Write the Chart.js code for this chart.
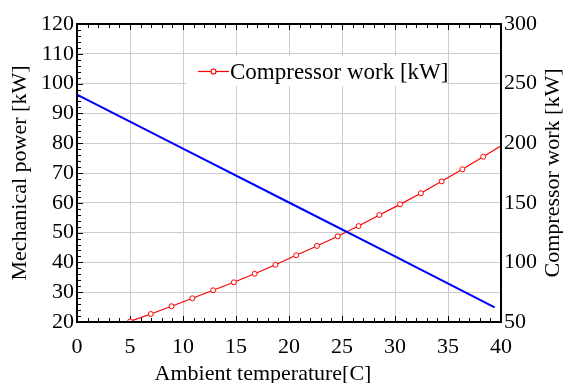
<!DOCTYPE html>
<html>
<head>
<meta charset="utf-8">
<script src="https://cdn.jsdelivr.net/npm/chart.js@4"></script>
<style>
  html, body { margin: 0; padding: 0; background: #fff; }
  #wrap { width: 563px; height: 383px; }
</style>
</head>
<body>
<div id="wrap"><canvas id="c" width="563" height="383"></canvas></div>
<script>
// ambient temperature [C] for the compressor curve (marker positions)
const compTemp = [5, 6.96, 8.92, 10.88, 12.84, 14.8, 16.76, 18.72, 20.68, 22.64,
                  24.6, 26.56, 28.52, 30.48, 32.44, 34.4, 36.36, 38.32, 40];
const compWork = [50.5, 56.7, 63.2, 69.9, 76.6, 83.3, 90.5, 98.0, 106.0, 113.8,
                  121.9, 130.5, 139.8, 148.7, 158.0, 168.0, 178.1, 188.7, 197.9];
// mechanical power line (left axis)
const mechTemp = [0, 10, 20, 30, 39.4];
const mechPower = [96.3, 78.2, 60.1, 42.0, 24.9];

const F = 'Liberation Serif';

// frame, inward minor ticks, custom legend and axis titles
const extras = {
  id: 'extras',
  beforeDatasetsDraw(chart) {
    const { ctx, chartArea: a, scales } = chart;
    ctx.save();
    ctx.strokeStyle = '#000';
    ctx.lineWidth = 1;
    for (let v = 1; v < 40; v++) {
      const x = Math.round(scales.x.getPixelForValue(v)) + 0.5;
      const len = v % 5 === 0 ? 6 : 4;
      ctx.beginPath();
      ctx.moveTo(x, a.bottom); ctx.lineTo(x, a.bottom - len);
      ctx.moveTo(x, a.top); ctx.lineTo(x, a.top + len);
      ctx.stroke();
    }
    for (let v = 22; v < 120; v += 2) {
      const y = Math.round(scales.y.getPixelForValue(v)) + 0.5;
      const len = v % 10 === 0 ? 6 : 4;
      ctx.beginPath();
      ctx.moveTo(a.left, y); ctx.lineTo(a.left + len, y);
      ctx.stroke();
    }
    ctx.restore();
  },
  afterDatasetsDraw(chart) {
    const { ctx, chartArea: a } = chart;
    ctx.save();
    // legend box
    const lx = a.left + 109, ly = a.top + 32;
    ctx.fillStyle = '#fff';
    ctx.fillRect(lx, ly, 261, 30);
    ctx.strokeStyle = '#ff0000';
    ctx.lineWidth = 1.2;
    ctx.beginPath();
    ctx.moveTo(lx + 12, ly + 15.5); ctx.lineTo(lx + 43, ly + 15.5);
    ctx.stroke();
    ctx.beginPath();
    ctx.arc(lx + 27.5, ly + 15.5, 2.5, 0, Math.PI * 2);
    ctx.fillStyle = '#fff'; ctx.fill(); ctx.stroke();
    ctx.fillStyle = '#000';
    ctx.font = '23px "' + F + '"';
    ctx.textBaseline = 'alphabetic';
    ctx.textAlign = 'left';
    ctx.fillText(chart.data.datasets[1].label, lx + 44, ly + 23.3);
    // frame
    ctx.strokeStyle = '#000';
    ctx.lineWidth = 2;
    ctx.strokeRect(a.left, a.top, a.right - a.left, a.bottom - a.top);
    // bottom axis title
    ctx.font = '22px "' + F + '"';
    ctx.textAlign = 'center';
    ctx.fillText('Ambient temperature[C]', 263, 380);
    // right axis title, reading bottom to top
    ctx.translate(553, (a.top + a.bottom) / 2);
    ctx.rotate(-Math.PI / 2);
    ctx.textBaseline = 'middle';
    ctx.fillText('Compressor work [kW]', 0, 0);
    ctx.restore();
  }
};

new Chart(document.getElementById('c'), {
  type: 'line',
  data: {
    datasets: [
      {
        label: 'Mechanical power [kW]',
        data: mechTemp.map((t, i) => ({ x: t, y: mechPower[i] })),
        yAxisID: 'y',
        borderColor: '#0000ff', borderWidth: 2,
        pointRadius: 0, fill: false, tension: 0
      },
      {
        label: 'Compressor work [kW]',
        data: compTemp.map((t, i) => ({ x: t, y: compWork[i] })),
        yAxisID: 'y1',
        borderColor: '#ff0000', borderWidth: 1.2,
        pointRadius: compTemp.map((t, i) => i === compTemp.length - 1 ? 0 : 2.5),
        pointBackgroundColor: '#fff', pointBorderColor: '#ff0000', pointBorderWidth: 1,
        fill: false, tension: 0
      }
    ]
  },
  options: {
    responsive: false, animation: false,
    layout: { padding: { top: 24, left: 0, right: 0, bottom: 0 } },
    plugins: { legend: { display: false }, tooltip: { enabled: false } },
    scales: {
      x: {
        type: 'linear', min: 0, max: 40,
        ticks: { stepSize: 5, color: '#000', font: { family: F, size: 22 }, padding: 12, maxRotation: 0 },
        grid: { color: '#cccccc', drawTicks: false },
        border: { display: false },
        afterFit: s => { s.height = 61; }
      },
      y: {
        position: 'left', min: 20, max: 120,
        ticks: { stepSize: 10, color: '#000', font: { family: F, size: 22 }, padding: 3 },
        grid: { color: '#cccccc', drawTicks: false },
        border: { display: false },
        title: { display: true, text: 'Mechanical power [kW]', color: '#000', font: { family: F, size: 22 }, padding: { top: 7, bottom: 0 } },
        afterFit: s => { s.width = 77; }
      },
      y1: {
        position: 'right', min: 50, max: 300,
        ticks: { stepSize: 50, color: '#000', font: { family: F, size: 22 }, padding: 3 },
        grid: { drawOnChartArea: false, drawTicks: false },
        border: { display: false },
        afterFit: s => { s.width = 62; }
      }
    }
  },
  plugins: [extras]
});
</script>
</body>
</html>
